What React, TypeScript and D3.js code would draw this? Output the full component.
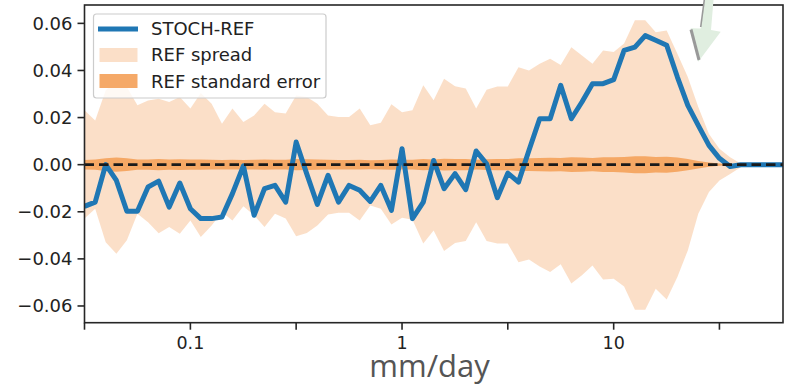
import React from 'react'
import * as d3 from 'd3'

// precipitation bins (mm/day), 20 per decade
const bins = [
  0.0316, 0.0355, 0.0398, 0.0447, 0.0501, 0.0562, 0.0631, 0.0708, 0.0794, 0.0891,
  0.1, 0.112, 0.126, 0.141, 0.158, 0.178, 0.2, 0.224, 0.251, 0.282,
  0.316, 0.355, 0.398, 0.447, 0.501, 0.562, 0.631, 0.708, 0.794, 0.891,
  1, 1.12, 1.26, 1.41, 1.58, 1.78, 2.0, 2.24, 2.51, 2.82,
  3.16, 3.55, 3.98, 4.47, 5.01, 5.62, 6.31, 7.08, 7.94, 8.91,
  10, 11.2, 12.6, 14.1, 15.8, 17.8, 20.0, 22.4, 25.1, 28.2,
  31.6, 35.5, 39.8, 44.7, 50.1, 56.2, 63.1,
]

const stochRef = [
  -0.0177, -0.0159, 0.0, -0.0067, -0.0198, -0.0198, -0.0095, -0.007, -0.018, -0.0078,
  -0.0187, -0.0229, -0.0229, -0.0222, -0.0123, -0.0005, -0.0215, -0.0102, -0.0088, -0.0159,
  0.0096, -0.004, -0.0169, -0.0045, -0.0159, -0.0088, -0.0109, -0.0156, -0.0088, -0.0194,
  0.0068, -0.0229, -0.0159, 0.0018, -0.0102, -0.0038, -0.0106, 0.0058, 0.0004, -0.014,
  -0.0036, -0.0074, 0.0061, 0.0195, 0.0195, 0.0337, 0.0195, 0.0266, 0.0344, 0.0344,
  0.0361, 0.0485, 0.0499, 0.0548, 0.0528, 0.0507, 0.0372, 0.0252, 0.0167, 0.0082,
  0.0027, -0.0008, 0.0, 0.0, 0.0, 0.0, 0.0,
]

const spreadHi = [
  0.0231, 0.0188, 0.0316, 0.0359, 0.033, 0.0252, 0.0273, 0.028, 0.0266, 0.0287,
  0.0238, 0.0304, 0.0259, 0.0174, 0.0238, 0.0181, 0.0209, 0.0259, 0.0223, 0.0217,
  0.0294, 0.0287, 0.0259, 0.0209, 0.0202, 0.0202, 0.0238, 0.0167, 0.0178, 0.0257,
  0.0223, 0.0231, 0.0337, 0.0274, 0.0365, 0.0333, 0.0323, 0.0238, 0.0318, 0.0332,
  0.0332, 0.0414, 0.04, 0.0429, 0.045, 0.0423, 0.0499, 0.0464, 0.0429, 0.0485,
  0.0478, 0.0514, 0.0613, 0.0613, 0.0562, 0.057, 0.0471, 0.0372, 0.0245, 0.013,
  0.0068, 0.0032, 0.0005, 0.0, 0.0, 0.0, 0.0,
]

const spreadLo = [
  -0.0229, -0.0187, -0.0329, -0.0378, -0.0321, -0.0208, -0.0244, -0.0291, -0.0265, -0.0293,
  -0.0237, -0.0307, -0.0258, -0.0201, -0.0237, -0.0177, -0.0215, -0.0265, -0.0208, -0.0229,
  -0.0304, -0.029, -0.0258, -0.0212, -0.0204, -0.0204, -0.0237, -0.0173, -0.0187, -0.0254,
  -0.0225, -0.0234, -0.0335, -0.0279, -0.0367, -0.0333, -0.0324, -0.0244, -0.0324, -0.0335,
  -0.0335, -0.0414, -0.0403, -0.0432, -0.0456, -0.0423, -0.0505, -0.047, -0.0428, -0.0488,
  -0.0484, -0.0517, -0.0616, -0.0616, -0.0527, -0.0573, -0.0477, -0.0364, -0.0208, -0.0116,
  -0.0067, -0.004, -0.0011, 0.0, 0.0, 0.0, 0.0,
]

// half width of the standard error band
const stdErr = [
  0.002, 0.0022, 0.0027, 0.003, 0.0027, 0.0022, 0.0022, 0.0024, 0.0022, 0.0023,
  0.0022, 0.0022, 0.0021, 0.002, 0.0021, 0.002, 0.0021, 0.0022, 0.0021, 0.0021,
  0.0024, 0.0023, 0.0022, 0.0021, 0.002, 0.002, 0.0021, 0.0019, 0.002, 0.0022,
  0.0021, 0.0021, 0.0024, 0.0022, 0.0025, 0.0024, 0.0024, 0.0021, 0.0023, 0.0024,
  0.0024, 0.0027, 0.0027, 0.0028, 0.0029, 0.0028, 0.0031, 0.003, 0.0028, 0.0031,
  0.0031, 0.0033, 0.0036, 0.0036, 0.0033, 0.0034, 0.003, 0.0024, 0.0016, 0.0009,
  0.0005, 0.0002, 0.0, 0.0, 0.0, 0.0, 0.0,
]

const yTicks = [-0.06, -0.04, -0.02, 0, 0.02, 0.04, 0.06]
const xTicks = [0.0316, 0.1, 0.316, 1, 3.16, 10, 31.6]
const xTickLabels = ['', '0.1', '', '1', '', '10', '']
const legendLabels = ['STOCH-REF', 'REF spread', 'REF standard error']

const W = 788
const H = 385
const left = 84.5
const right = 783
const top = 5
const bottom = 322.7

const blue = '#1f77b4'
const sandy = '#f4a460'
const font = 'DejaVu Sans, sans-serif'

const App = () => {
  const x = d3.scaleLog().domain(d3.extent(bins) as [number, number]).range([left, right])
  const y = d3.scaleLinear().domain([-0.0671, 0.0678]).range([bottom, top])

  const idx = d3.range(bins.length)
  const spreadArea = d3
    .area<number>()
    .x((i) => x(bins[i]))
    .y0((i) => y(spreadLo[i]))
    .y1((i) => y(spreadHi[i]))
  const seArea = d3
    .area<number>()
    .x((i) => x(bins[i]))
    .y0((i) => y(-stdErr[i]))
    .y1((i) => y(stdErr[i]))
  const line = d3
    .line<number>()
    .x((i) => x(bins[i]))
    .y((i) => y(stochRef[i]))

  const fmt = (v: number) => (v < 0 ? '\u2212' : '') + Math.abs(v).toFixed(2)

  return (
    <svg width={W} height={H} style={{ position: 'absolute', left: 0, top: 0, background: '#fff' }}>
      <defs>
        <clipPath id="plot">
          <rect x={left} y={top} width={right - left} height={bottom - top} />
        </clipPath>
      </defs>
      <g clipPath="url(#plot)">
        <path d={spreadArea(idx) || ''} fill={sandy} fillOpacity={0.35} />
        <path d={seArea(idx) || ''} fill={sandy} fillOpacity={0.95} />
        <path
          d={line(idx) || ''}
          fill="none"
          stroke={blue}
          strokeWidth={5}
          strokeLinejoin="round"
          strokeLinecap="butt"
        />
        <line
          x1={left}
          x2={right}
          y1={y(0)}
          y2={y(0)}
          stroke="#1a1a1a"
          strokeWidth={2.6}
          strokeDasharray="9.5,5"
        />
      </g>

      {/* spines */}
      <rect
        x={left}
        y={top}
        width={right - left}
        height={bottom - top}
        fill="none"
        stroke="#262626"
        strokeWidth={1.6}
      />

      {/* y axis */}
      {yTicks.map((t) => (
        <g key={t}>
          <line x1={left - 7} x2={left} y1={y(t)} y2={y(t)} stroke="#262626" strokeWidth={1.6} />
          <text
            x={left - 12}
            y={y(t) + 6.5}
            textAnchor="end"
            fontFamily={font}
            fontSize={18}
            fill="#222"
          >
            {fmt(t)}
          </text>
        </g>
      ))}

      {/* x axis */}
      {xTicks.map((t, i) => (
        <g key={t}>
          <line x1={x(t)} x2={x(t)} y1={bottom} y2={bottom + 7} stroke="#262626" strokeWidth={1.6} />
          <text x={x(t)} y={348.5} textAnchor="middle" fontFamily={font} fontSize={17.5} fill="#222">
            {xTickLabels[i]}
          </text>
        </g>
      ))}
      <text x={429.5} y={377} textAnchor="middle" fontFamily="Open Sans, sans-serif" fontSize={31} fill="#555">
        mm/day
      </text>

      {/* legend */}
      <rect x={93.5} y={14} width={232.5} height={84} rx={3} fill="#fff" fillOpacity={0.8} stroke="#ccc" strokeWidth={1.2} />
      <line x1={98} x2={138} y1={29} y2={29} stroke={blue} strokeWidth={5} />
      <rect x={99.5} y={48} width={38} height={14} fill={sandy} fillOpacity={0.35} />
      <rect x={99.5} y={74} width={38} height={14} fill={sandy} fillOpacity={0.95} />
      {legendLabels.map((l, i) => (
        <text key={l} x={151} y={34.8 + i * 26.6} fontFamily={font} fontSize={18} fill="#222">
          {l}
        </text>
      ))}

      {/* leftover arrow from the composite figure */}
      <polygon points="704,0 713.5,0 711,30 720.7,31.7 698.3,61.7 690.7,28.3 700.7,28.5" fill="#e0eee0" />
      <line x1={704.3} y1={0} x2={700.7} y2={27} stroke="#999" strokeWidth={1.6} />
      <line x1={691} y1={29.5} x2={699} y2={60} stroke="#999" strokeWidth={3} />
    </svg>
  )
}

export default App
